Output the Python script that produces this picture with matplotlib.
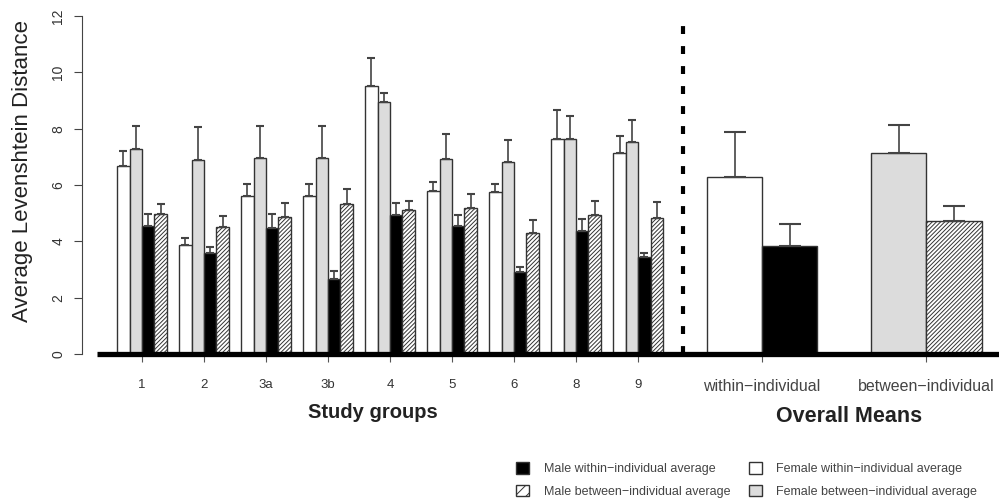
import numpy as np
import matplotlib
matplotlib.use("Agg")
import matplotlib.pyplot as plt
from matplotlib.patches import Patch

plt.rcParams['font.family'] = ['Liberation Sans', 'DejaVu Sans']
plt.rcParams['hatch.linewidth'] = 0.7
plt.rcParams['hatch.color'] = '#333333'

# data
groups = ['1', '2', '3a', '3b', '4', '5', '6', '8', '9']
female_within = [6.67, 3.87, 5.62, 5.62, 9.51, 5.78, 5.74, 7.63, 7.12]
female_within_err = [0.55, 0.25, 0.40, 0.40, 0.99, 0.33, 0.28, 1.02, 0.61]
female_between = [7.29, 6.89, 6.97, 6.97, 8.96, 6.93, 6.83, 7.63, 7.53]
female_between_err = [0.81, 1.16, 1.12, 1.12, 0.31, 0.88, 0.78, 0.82, 0.78]
male_within = [4.55, 3.59, 4.46, 2.65, 4.95, 4.54, 2.90, 4.37, 3.45]
male_within_err = [0.41, 0.21, 0.50, 0.31, 0.42, 0.38, 0.20, 0.41, 0.12]
male_between = [4.98, 4.50, 4.86, 5.31, 5.10, 5.17, 4.28, 4.93, 4.82]
male_between_err = [0.34, 0.40, 0.50, 0.55, 0.32, 0.51, 0.48, 0.50, 0.59]

overall_labels = ['within\u2212individual', 'between\u2212individual']
overall_female = [6.27, 7.12]
overall_female_err = [1.60, 1.02]
overall_male = [3.85, 4.73]
overall_male_err = [0.76, 0.53]

fig = plt.figure(figsize=(9.99, 4.99), dpi=100)
ax = fig.add_axes([82 / 999, (499 - 354) / 499, 917 / 999, 338 / 499])

edge = '#333333'
errc = '#444444'
hatch = '////////'
w = 0.2
x = np.arange(len(groups))

styles = [
    (female_within, female_within_err, dict(color='white')),
    (female_between, female_between_err, dict(color='#dcdcdc')),
    (male_within, male_within_err, dict(color='black')),
    (male_between, male_between_err, dict(color='white', hatch=hatch)),
]
for i, (vals, errs, st) in enumerate(styles):
    pos = x + (i - 1.5) * w
    ax.bar(pos, vals, width=w, edgecolor=edge, linewidth=1.0, **st)
    ax.errorbar(pos, vals, yerr=[np.zeros(len(errs)), errs], fmt='none',
                ecolor=errc, elinewidth=1.2, capsize=3, capthick=1.5)

# overall means
xo = np.array([10.0, 12.65])
wo = 0.89
ax.bar(xo[0] - wo / 2, overall_female[0], width=wo, color='white', edgecolor=edge, linewidth=1.0)
ax.bar(xo[0] + wo / 2, overall_male[0], width=wo, color='black', edgecolor=edge, linewidth=1.0)
ax.bar(xo[1] - wo / 2, overall_female[1], width=wo, color='#dcdcdc', edgecolor=edge, linewidth=1.0)
ax.bar(xo[1] + wo / 2, overall_male[1], width=wo, color='white', edgecolor=edge, linewidth=1.0, hatch=hatch)
ax.errorbar(xo - wo / 2, overall_female, yerr=[[0, 0], overall_female_err], fmt='none',
            ecolor=errc, elinewidth=1.2, capsize=8, capthick=1.5)
ax.errorbar(xo + wo / 2, overall_male, yerr=[[0, 0], overall_male_err], fmt='none',
            ecolor=errc, elinewidth=1.2, capsize=8, capthick=1.5)

# separator and baseline
ax.plot([8.73, 8.73], [0, 12], color='black', lw=3, dashes=(1.9, 2.9), clip_on=False)
ax.plot([-0.726, 13.82], [0, 0], color='black', lw=3.8, clip_on=False, solid_capstyle='butt', zorder=5)

ax.set_xlim(-0.968, 13.82)
ax.set_ylim(0, 12)
for s in ['top', 'right', 'bottom']:
    ax.spines[s].set_visible(False)
ax.spines['left'].set_bounds(0, 12)
ax.spines['left'].set_color('#444444')

ax.set_yticks([0, 2, 4, 6, 8, 10, 12])
ax.tick_params(axis='y', length=6, color='#444444', labelcolor='#333333', labelsize=10, pad=6)
for lab in ax.get_yticklabels():
    lab.set_rotation(90)
    lab.set_va('center')
ax.set_xticks(list(x) + list(xo))
ax.set_xticklabels(groups + overall_labels)
ax.tick_params(axis='x', length=6, color='#555555', labelcolor='#333333', labelsize=9.5, pad=12)
for lab in ax.get_xticklabels()[-2:]:
    lab.set_fontsize(11.5)
    lab.set_color('#444444')

ax.set_ylabel('Average Levenshtein Distance', fontsize=16, color='#222222')
ax.yaxis.set_label_coords(-0.053, 0.54)
fig.text(373 / 999, 1 - 412 / 499, 'Study groups', fontsize=14.5, fontweight='bold',
         ha='center', va='center', color='#222222')
fig.text(849 / 999, 1 - 417 / 499, 'Overall Means', fontsize=15.5, fontweight='bold',
         ha='center', va='center', color='#222222')

handles = [
    Patch(facecolor='black', edgecolor=edge),
    Patch(facecolor='white', edgecolor=edge, hatch='///'),
    Patch(facecolor='white', edgecolor=edge),
    Patch(facecolor='#dcdcdc', edgecolor=edge),
]
labels = ['Male within\u2212individual average', 'Male between\u2212individual average',
          'Female within\u2212individual average', 'Female between\u2212individual average']
leg = fig.legend(handles, labels, loc='upper left', bbox_to_anchor=(510 / 999, 1 - 456 / 499),
                 ncol=2, frameon=False, fontsize=9, handlelength=1.04, handleheight=1.04,
                 handletextpad=1.16, columnspacing=1.5, labelspacing=0.75, borderpad=0)
for t in leg.get_texts():
    t.set_color('#444444')

fig.savefig('out.png', dpi=100)
